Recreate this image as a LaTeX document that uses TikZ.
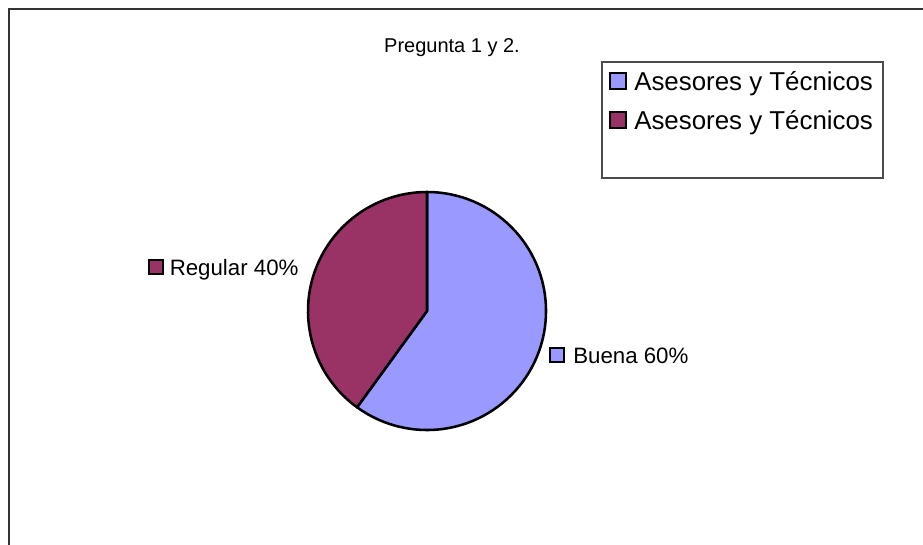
\documentclass[tikz,border=0pt]{standalone}
\usepackage{fontspec}
\setmainfont{Liberation Sans}
\usetikzlibrary{calc}
\definecolor{buenablue}{HTML}{9999FF}
\definecolor{regularred}{HTML}{993366}
\def\keybox[#1](#2)(#3){\draw[line width=1.5pt, fill=#1] ($(#2)+(-#3,-#3)$) rectangle ($(#2)+(#3,#3)$);}

\begin{document}
\begin{tikzpicture}[x=0.75pt, y=-0.75pt,
		slice/.style={draw=black, line width=1.9pt, line join=round},
		legendtext/.style={anchor=base west, inner sep=0pt, font=\fontsize{19.4}{22}\selectfont},
		labeltext/.style={anchor=base west, inner sep=0pt, font=\fontsize{16.7}{19}\selectfont}]
		%%%%% START %%%%%
		
		\useasboundingbox (0, 0) rectangle (923, 544);
		\fill[white] (0, 0) rectangle (923, 544);
		\clip (0, 0) rectangle (923, 544);
		
		% outer frame
		\draw[line width=1.6pt, color=black!80] (9, 560) -- (9, 9) -- (940, 9);
		
		% title
		\node[anchor=base, inner sep=0pt, font=\fontsize{15}{17}\selectfont] (title) at (452, 52) {Pregunta 1 y 2.};
		
		% legend
		\draw[line width=0.9pt, color=black!70] (602, 62) rectangle (883, 178);
		\keybox[buenablue](618, 81)(8);
		\node[legendtext] (keyA) at (634, 90) {Asesores y Técnicos};
		\keybox[regularred](618, 120)(8);
		\node[legendtext] (keyB) at (634, 129) {Asesores y Técnicos};
		
		% pie
		\coordinate (pc) at (427, 311);
		\draw[slice, fill=buenablue] (pc) -- ++(-90:119) arc[start angle=-90, end angle=126, radius=119] -- cycle;
		\draw[slice, fill=regularred] (pc) -- ++(126:119) arc[start angle=126, end angle=270, radius=119] -- cycle;
		
		% data labels
		\keybox[regularred](156, 266.5)(7);
		\node[labeltext] (regular) at (169.5, 275) {Regular 40\%};
		\keybox[buenablue](557, 354.5)(7);
		\node[labeltext] (buena) at (573, 363) {Buena 60\%};
		
		%%%%% END %%%%%
	\end{tikzpicture}
\end{document}
